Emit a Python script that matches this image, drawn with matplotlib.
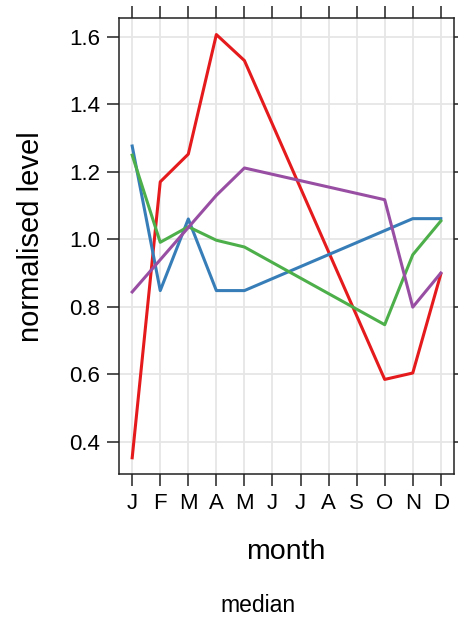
import numpy as np
import matplotlib.pyplot as plt

plt.rcParams['font.family'] = ['Liberation Sans', 'DejaVu Sans']

month_labels = ['J', 'F', 'M', 'A', 'M', 'J', 'J', 'A', 'S', 'O', 'N', 'D']

# month numbers present for each series and the normalised values
red_month = [1, 2, 3, 4, 5, 10, 11, 12]
red_val = [0.353, 1.170, 1.252, 1.606, 1.529, 0.585, 0.604, 0.897]

blue_month = [1, 2, 3, 4, 5, 11, 12]
blue_val = [1.276, 0.848, 1.060, 0.848, 0.848, 1.061, 1.061]

green_month = [1, 2, 3, 4, 5, 10, 11, 12]
green_val = [1.249, 0.991, 1.037, 0.997, 0.977, 0.747, 0.954, 1.054]

purple_month = [1, 4, 5, 10, 11, 12]
purple_val = [0.844, 1.130, 1.211, 1.117, 0.799, 0.900]

y_ticks = [0.4, 0.6, 0.8, 1.0, 1.2, 1.4, 1.6]

W, H = 458, 618
fig = plt.figure(figsize=(W / 100, H / 100), dpi=100)
# axes box in pixels: left 119, right 454, top 18, bottom 474
ax = fig.add_axes([119 / W, 1 - 474 / H, (454 - 119) / W, (474 - 18) / H])

ax.grid(True, color='#e6e6e6', lw=1.3)
ax.set_axisbelow(True)

lw = 2.2
ax.plot(red_month, red_val, color='#E41A1C', lw=lw)
ax.plot(blue_month, blue_val, color='#377EB8', lw=lw)
ax.plot(green_month, green_val, color='#4DAF4A', lw=lw)
ax.plot(purple_month, purple_val, color='#984EA3', lw=lw)

ax.set_xlim(0.53, 12.47)
ax.set_ylim(0.305, 1.655)
ax.set_xticks(np.arange(1, 13))
ax.set_xticklabels(month_labels)
ax.set_yticks(y_ticks)
ax.set_yticklabels(['%.1f' % v for v in y_ticks])

ax.tick_params(direction='out', length=8.5, width=1.1, color='#222222',
               labelsize=16, top=True, right=True, pad=5)
for s in ax.spines.values():
    s.set_linewidth(1.1)
    s.set_color('#222222')

fig.text(31 / W, 1 - 237 / H, 'normalised level', rotation=90,
         ha='center', va='center', fontsize=21)
fig.text(286 / W, 1 - 552 / H, 'month', ha='center', va='center', fontsize=20.5)
fig.text(258 / W, 1 - 606 / H, 'median', ha='center', va='center', fontsize=16.5)

fig.savefig('out.png', dpi=100)
